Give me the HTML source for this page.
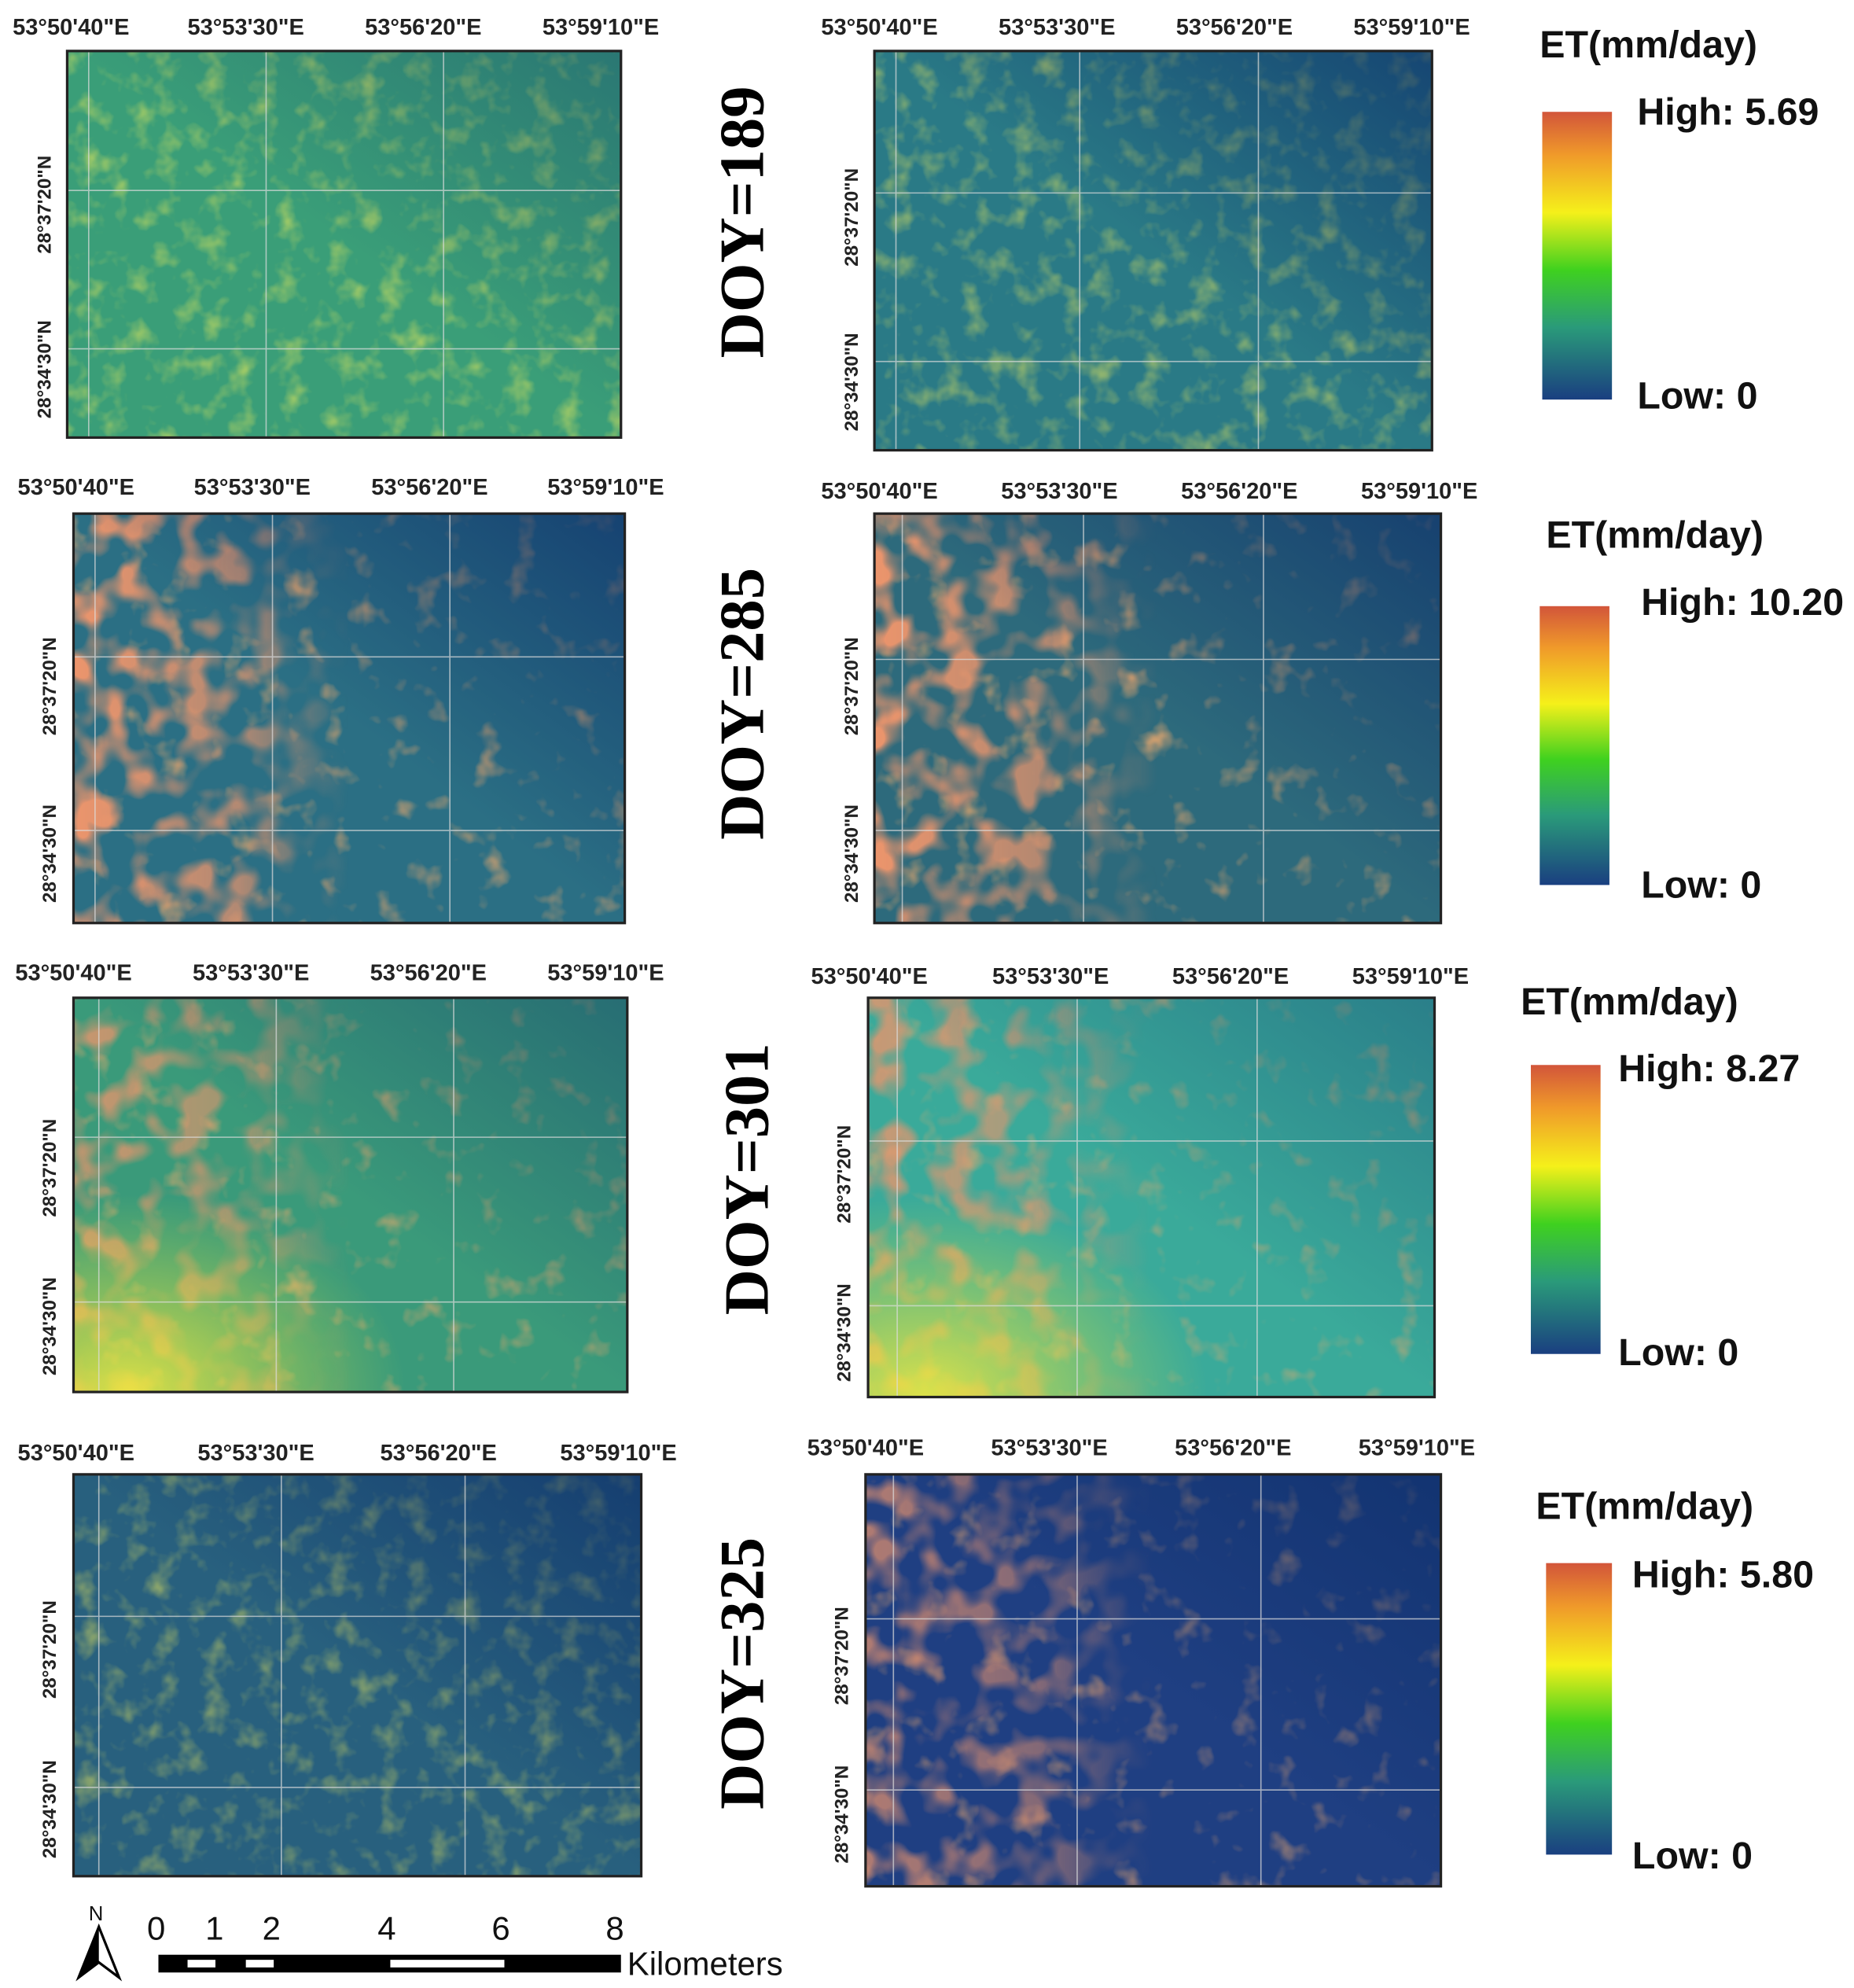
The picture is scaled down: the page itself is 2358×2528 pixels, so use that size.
<!DOCTYPE html>
<html><head><meta charset="utf-8"><style>
html,body{margin:0;padding:0;background:#fff}
svg{display:block}
.t{font-family:"Liberation Sans",sans-serif;font-weight:bold;font-size:18px;fill:#222}
.l{font-family:"Liberation Sans",sans-serif;font-weight:bold;font-size:15px;fill:#222}
.d{font-family:"Liberation Serif",serif;font-weight:bold;font-size:50px;fill:#000}
.g{font-family:"Liberation Sans",sans-serif;font-weight:bold;font-size:30px;fill:#111}
</style></head><body>
<svg width="2358" height="2528" viewBox="0 0 1463 1568" xmlns="http://www.w3.org/2000/svg">
<defs>
<linearGradient id="cb" x1="0" y1="0" x2="0" y2="1">
<stop offset="0" stop-color="#d2553a"/><stop offset="0.15" stop-color="#f09a2a"/><stop offset="0.35" stop-color="#f5f01a"/><stop offset="0.55" stop-color="#3fd11f"/><stop offset="0.75" stop-color="#2a9a7a"/><stop offset="1" stop-color="#1a3f80"/>
</linearGradient>
<filter id="tx" x="0" y="0" width="1" height="1"><feTurbulence type="fractalNoise" baseFrequency="0.05" numOctaves="3" seed="4"/><feColorMatrix values="0 0 0 0 0.9  0 0 0 0 0.85  0 0 0 0 0.1  0 0 0 -2.2 1.1"/></filter>
<filter id="tx2" x="0" y="0" width="1" height="1"><feTurbulence type="fractalNoise" baseFrequency="0.04" numOctaves="3" seed="9"/><feColorMatrix values="0 0 0 0 0.88  0 0 0 0 0.4  0 0 0 0 0.15  0 0 0 -3 1.2"/></filter>
<filter id="tx3" x="0" y="0" width="1" height="1"><feTurbulence type="fractalNoise" baseFrequency="0.035" numOctaves="2" seed="2"/><feColorMatrix values="0 0 0 0 0.85  0 0 0 0 0.3  0 0 0 0 0.15  0 0 0 -4 2.2"/></filter>
<linearGradient id="dk" x1="1" y1="0" x2="0" y2="1"><stop offset="0" stop-color="#0d2f6a" stop-opacity="0.7"/><stop offset="0.5" stop-color="#0d2f6a" stop-opacity="0"/></linearGradient>
<linearGradient id="lm" x1="0" y1="0" x2="1" y2="0"><stop offset="0" stop-color="#fff"/><stop offset="0.3" stop-color="#fff" stop-opacity="0.7"/><stop offset="0.5" stop-color="#fff" stop-opacity="0"/></linearGradient>
<mask id="lmask" maskContentUnits="objectBoundingBox"><rect width="1" height="1" fill="url(#lm)"/></mask>
<radialGradient id="yl" cx="0.1" cy="1" r="0.5"><stop offset="0" stop-color="#f0e840" stop-opacity="0.9"/><stop offset="1" stop-color="#c8e040" stop-opacity="0"/></radialGradient>
</defs>
<g id="maps">
<rect x="53" y="40" width="437" height="305" fill="#3a9e78"/><rect x="53" y="40" width="437" height="305" filter="url(#tx)" opacity="0.6"/><rect x="53" y="40" width="437" height="305" fill="url(#dk)" opacity="0.5"/>
<rect x="690" y="40" width="440" height="315" fill="#2a7a86"/><rect x="690" y="40" width="440" height="315" filter="url(#tx)" opacity="0.55"/><rect x="690" y="40" width="440" height="315" fill="url(#dk)"/>
<rect x="58" y="405" width="435" height="323" fill="#2b6f84"/><rect x="58" y="405" width="435" height="323" filter="url(#tx2)" opacity="0.8"/><rect x="58" y="405" width="435" height="323" filter="url(#tx3)" mask="url(#lmask)"/><rect x="58" y="405" width="435" height="323" fill="url(#dk)"/>
<rect x="690" y="405" width="447" height="323" fill="#2d6a7c"/><rect x="690" y="405" width="447" height="323" filter="url(#tx2)" opacity="0.8"/><rect x="690" y="405" width="447" height="323" filter="url(#tx3)" mask="url(#lmask)"/><rect x="690" y="405" width="447" height="323" fill="url(#dk)"/>
<rect x="58" y="787" width="437" height="311" fill="#3a9a7a"/><rect x="58" y="787" width="437" height="311" filter="url(#tx2)" opacity="0.7"/><rect x="58" y="787" width="437" height="311" filter="url(#tx3)" mask="url(#lmask)" opacity="0.8"/><rect x="58" y="787" width="437" height="311" fill="url(#yl)"/><rect x="58" y="787" width="437" height="311" fill="url(#dk)" opacity="0.6"/>
<rect x="685" y="787" width="447" height="315" fill="#3aaa9a"/><rect x="685" y="787" width="447" height="315" filter="url(#tx2)" opacity="0.6"/><rect x="685" y="787" width="447" height="315" filter="url(#tx3)" mask="url(#lmask)" opacity="0.8"/><rect x="685" y="787" width="447" height="315" fill="url(#yl)"/><rect x="685" y="787" width="447" height="315" fill="url(#dk)" opacity="0.5"/>
<rect x="58" y="1163" width="448" height="317" fill="#28607e"/><rect x="58" y="1163" width="448" height="317" filter="url(#tx)" opacity="0.5"/><rect x="58" y="1163" width="448" height="317" fill="url(#dk)"/>
<rect x="683" y="1163" width="454" height="325" fill="#1f3f82"/><rect x="683" y="1163" width="454" height="325" filter="url(#tx2)" opacity="0.6"/><rect x="683" y="1163" width="454" height="325" filter="url(#tx3)" mask="url(#lmask)" opacity="0.7"/><rect x="683" y="1163" width="454" height="325" fill="url(#dk)"/>
</g>
<g stroke="#ddd" stroke-width="1" opacity="0.7">
<path d="M70 40V345M210 40V345M350 40V345M53 150H490M53 275H490"/>
<path d="M707 40V355M852 40V355M993 40V355M690 152H1130M690 285H1130"/>
<path d="M75 405V728M215 405V728M355 405V728M58 518H493M58 655H493"/>
<path d="M712 405V728M855 405V728M997 405V728M690 520H1137M690 655H1137"/>
<path d="M78 787V1098M218 787V1098M358 787V1098M58 897H495M58 1027H495"/>
<path d="M708 787V1102M850 787V1102M992 787V1102M685 900H1132M685 1030H1132"/>
<path d="M78 1163V1480M222 1163V1480M367 1163V1480M58 1275H506M58 1410H506"/>
<path d="M705 1163V1488M850 1163V1488M995 1163V1488M683 1277H1137M683 1412H1137"/>
</g>
<g fill="none" stroke="#222" stroke-width="2">
<rect x="53" y="40" width="437" height="305"/><rect x="690" y="40" width="440" height="315"/>
<rect x="58" y="405" width="435" height="323"/><rect x="690" y="405" width="447" height="323"/>
<rect x="58" y="787" width="437" height="311"/><rect x="685" y="787" width="447" height="315"/>
<rect x="58" y="1163" width="448" height="317"/><rect x="683" y="1163" width="454" height="325"/>
</g>
<g class="t">
<text x="10" y="27">53°50'40"E</text><text x="148" y="27">53°53'30"E</text><text x="288" y="27">53°56'20"E</text><text x="428" y="27">53°59'10"E</text>
<text x="648" y="27">53°50'40"E</text><text x="788" y="27">53°53'30"E</text><text x="928" y="27">53°56'20"E</text><text x="1068" y="27">53°59'10"E</text>
<text x="14" y="390">53°50'40"E</text><text x="153" y="390">53°53'30"E</text><text x="293" y="390">53°56'20"E</text><text x="432" y="390">53°59'10"E</text>
<text x="648" y="393">53°50'40"E</text><text x="790" y="393">53°53'30"E</text><text x="932" y="393">53°56'20"E</text><text x="1074" y="393">53°59'10"E</text>
<text x="12" y="773">53°50'40"E</text><text x="152" y="773">53°53'30"E</text><text x="292" y="773">53°56'20"E</text><text x="432" y="773">53°59'10"E</text>
<text x="640" y="776">53°50'40"E</text><text x="783" y="776">53°53'30"E</text><text x="925" y="776">53°56'20"E</text><text x="1067" y="776">53°59'10"E</text>
<text x="14" y="1152">53°50'40"E</text><text x="156" y="1152">53°53'30"E</text><text x="300" y="1152">53°56'20"E</text><text x="442" y="1152">53°59'10"E</text>
<text x="637" y="1148">53°50'40"E</text><text x="782" y="1148">53°53'30"E</text><text x="927" y="1148">53°56'20"E</text><text x="1072" y="1148">53°59'10"E</text>
</g>
<g class="l">
<text transform="translate(40,200) rotate(-90)">28°37'20"N</text><text transform="translate(40,330) rotate(-90)">28°34'30"N</text>
<text transform="translate(677,210) rotate(-90)">28°37'20"N</text><text transform="translate(677,340) rotate(-90)">28°34'30"N</text>
<text transform="translate(44,580) rotate(-90)">28°37'20"N</text><text transform="translate(44,712) rotate(-90)">28°34'30"N</text>
<text transform="translate(677,580) rotate(-90)">28°37'20"N</text><text transform="translate(677,712) rotate(-90)">28°34'30"N</text>
<text transform="translate(44,960) rotate(-90)">28°37'20"N</text><text transform="translate(44,1085) rotate(-90)">28°34'30"N</text>
<text transform="translate(671,965) rotate(-90)">28°37'20"N</text><text transform="translate(671,1090) rotate(-90)">28°34'30"N</text>
<text transform="translate(44,1340) rotate(-90)">28°37'20"N</text><text transform="translate(44,1466) rotate(-90)">28°34'30"N</text>
<text transform="translate(669,1345) rotate(-90)">28°37'20"N</text><text transform="translate(669,1470) rotate(-90)">28°34'30"N</text>
</g>
<g class="d">
<text transform="translate(602,175) rotate(-90)" text-anchor="middle">DOY=189</text>
<text transform="translate(602,555) rotate(-90)" text-anchor="middle">DOY=285</text>
<text transform="translate(606,930) rotate(-90)" text-anchor="middle">DOY=301</text>
<text transform="translate(602,1320) rotate(-90)" text-anchor="middle">DOY=325</text>
</g>
<g class="g">
<text x="1215" y="45">ET(mm/day)</text><rect x="1217" y="88" width="55" height="227" fill="url(#cb)"/><text x="1292" y="98">High: 5.69</text><text x="1292" y="322">Low: 0</text>
<text x="1220" y="432">ET(mm/day)</text><rect x="1215" y="478" width="55" height="220" fill="url(#cb)"/><text x="1295" y="485">High: 10.20</text><text x="1295" y="708">Low: 0</text>
<text x="1200" y="800">ET(mm/day)</text><rect x="1208" y="840" width="55" height="228" fill="url(#cb)"/><text x="1277" y="853">High: 8.27</text><text x="1277" y="1077">Low: 0</text>
<text x="1212" y="1198">ET(mm/day)</text><rect x="1220" y="1233" width="52" height="230" fill="url(#cb)"/><text x="1288" y="1252">High: 5.80</text><text x="1288" y="1474">Low: 0</text>
</g>
<g font-family="Liberation Sans,sans-serif" font-size="26" fill="#111">
<text x="116" y="1530">0</text><text x="162" y="1530">1</text><text x="207" y="1530">2</text><text x="298" y="1530">4</text><text x="388" y="1530">6</text><text x="478" y="1530">8</text>
<text x="495" y="1558">Kilometers</text><text x="70" y="1515" font-size="16">N</text>
</g>
<rect x="125" y="1542" width="365" height="14" fill="#000"/>
<rect x="148" y="1546" width="22" height="6" fill="#fff"/><rect x="194" y="1546" width="22" height="6" fill="#fff"/><rect x="308" y="1546" width="90" height="6" fill="#fff"/>
<path d="M78 1520 L62 1560 L78 1548 L94 1560 Z" fill="#fff" stroke="#000" stroke-width="2"/><path d="M78 1520 L78 1548 L62 1560 Z" fill="#000"/>
</svg>
</body></html>
